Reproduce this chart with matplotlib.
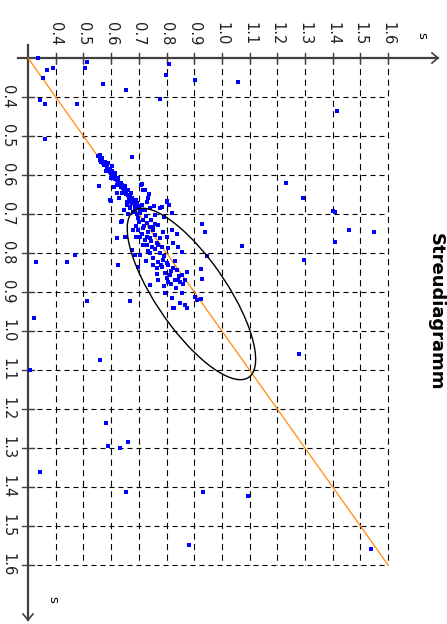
import matplotlib
matplotlib.use("Agg")
import matplotlib.pyplot as plt
from matplotlib.patches import Ellipse

title = "Streudiagramm"
axis_label = "s"
tick_values = [0.4, 0.5, 0.6, 0.7, 0.8, 0.9, 1.0, 1.1, 1.2, 1.3, 1.4, 1.5, 1.6]
tick_labels = ["0.4", "0.5", "0.6", "0.7", "0.8", "0.9", "1.0", "1.1", "1.2", "1.3", "1.4", "1.5", "1.6"]
axis_min = 0.3
axis_max = 1.6

# values along the top axis (y) and along the left axis (x) of the rotated chart
y_vals = [
    0.335, 0.513, 0.506, 0.37, 0.39, 0.355, 0.57, 0.654, 0.777, 0.809, 0.798, 0.903, 1.058,
    0.343, 0.361, 0.477, 0.36, 0.675, 0.556, 1.415, 1.231, 1.293, 1.40, 1.41, 1.459, 1.549,
    1.408, 1.073, 1.296, 0.928, 0.939, 0.947, 0.925, 0.928, 0.925, 0.513, 0.668, 0.322, 0.56,
    0.307, 0.582, 0.589, 0.632, 0.661, 0.343, 0.654, 0.932, 0.881, 0.827, 0.849, 0.867, 0.874,
    1.278, 1.094, 1.538, 0.329, 0.441, 0.47, 0.626, 0.687,
    # diagonal band
    0.560, 0.566, 0.578, 0.590, 0.602, 0.596, 0.614, 0.608, 0.620, 0.632, 0.638, 0.644, 0.650,
    0.656, 0.662, 0.668, 0.674, 0.680, 0.686, 0.692, 0.668, 0.656, 0.680, 0.704, 0.698, 0.716,
    0.728, 0.740, 0.553, 0.559, 0.571, 0.583, 0.589, 0.601, 0.613, 0.625, 0.637, 0.649, 0.661,
    0.673, 0.709, 0.721,
    0.599, 0.710, 0.716, 0.737, 0.734, 0.756, 0.777, 0.801, 0.810, 0.791, 0.638,
    0.575, 0.585, 0.595, 0.605, 0.615, 0.625, 0.635, 0.645, 0.655, 0.665, 0.675, 0.685, 0.695,
    0.562, 0.580, 0.600, 0.620, 0.640, 0.660, 0.690, 0.700, 0.712, 0.725, 0.745, 0.760,
    0.660, 0.645, 0.630, 0.620, 0.610, 0.605,
    # main cluster
    0.656, 0.674, 0.692, 0.710, 0.728, 0.668, 0.686, 0.704, 0.722, 0.740, 0.801, 0.783, 0.819,
    0.758, 0.635, 0.650, 0.698, 0.716, 0.734, 0.752, 0.770, 0.788, 0.704, 0.722, 0.740, 0.758,
    0.777, 0.801, 0.819, 0.837, 0.728, 0.747, 0.765, 0.783, 0.807, 0.825, 0.843, 0.855, 0.740,
    0.752, 0.770, 0.788, 0.807, 0.825, 0.837, 0.855, 0.873, 0.765, 0.783, 0.813, 0.831, 0.849,
    0.867, 0.903, 0.909, 0.855, 0.807, 0.740, 0.698, 0.674, 0.769, 0.802, 0.842, 0.795, 0.820,
    0.823, 0.621, 0.654, 0.596,
    0.700, 0.690, 0.680, 0.710, 0.730, 0.745, 0.760, 0.775, 0.790, 0.800, 0.815, 0.795, 0.780,
    0.765, 0.830, 0.845, 0.860, 0.835, 0.815, 0.790, 0.770, 0.750, 0.720, 0.735, 0.715, 0.690,
    0.705, 0.725, 0.750,
]
x_vals = [
    0.30, 0.31, 0.326, 0.33, 0.325, 0.35, 0.367, 0.382, 0.405, 0.315, 0.344, 0.356, 0.362,
    0.408, 0.418, 0.418, 0.508, 0.554, 0.628, 0.436, 0.62, 0.659, 0.692, 0.695, 0.741, 0.746,
    0.772, 0.782, 0.818, 0.725, 0.746, 0.808, 0.842, 0.866, 0.918, 0.923, 0.923, 0.967, 1.074,
    1.10, 1.236, 1.295, 1.30, 1.285, 1.362, 1.413, 1.413, 1.549, 0.941, 0.928, 0.933, 0.941,
    1.059, 1.423, 1.559, 0.823, 0.823, 0.805, 0.831, 0.805,
    # diagonal band
    0.549, 0.557, 0.566, 0.570, 0.577, 0.585, 0.596, 0.604, 0.613, 0.621, 0.626, 0.634, 0.643,
    0.638, 0.651, 0.656, 0.660, 0.668, 0.677, 0.685, 0.681, 0.677, 0.694, 0.698, 0.711, 0.715,
    0.724, 0.733, 0.552, 0.561, 0.569, 0.574, 0.586, 0.595, 0.599, 0.608, 0.621, 0.629, 0.638,
    0.646, 0.625, 0.638,
    0.666, 0.623, 0.638, 0.649, 0.660, 0.679, 0.685, 0.666, 0.677, 0.708, 0.717,
    0.575, 0.580, 0.592, 0.598, 0.610, 0.615, 0.630, 0.640, 0.648, 0.662, 0.670, 0.688, 0.700,
    0.566, 0.590, 0.608, 0.625, 0.646, 0.668, 0.665, 0.680, 0.690, 0.705, 0.715, 0.725,
    0.700, 0.690, 0.660, 0.645, 0.630, 0.590,
    # main cluster
    0.668, 0.673, 0.671, 0.677, 0.668, 0.685, 0.690, 0.694, 0.690, 0.685, 0.668, 0.683, 0.698,
    0.703, 0.720, 0.760, 0.741, 0.737, 0.745, 0.733, 0.728, 0.745, 0.758, 0.767, 0.762, 0.754,
    0.762, 0.758, 0.741, 0.750, 0.779, 0.784, 0.775, 0.784, 0.788, 0.775, 0.784, 0.797, 0.801,
    0.814, 0.822, 0.818, 0.831, 0.839, 0.844, 0.856, 0.848, 0.839, 0.835, 0.856, 0.869, 0.874,
    0.869, 0.912, 0.921, 0.903, 0.874, 0.882, 0.835, 0.792, 0.869, 0.864, 0.869, 0.903, 0.915,
    0.941, 0.762, 0.759, 0.664,
    0.720, 0.730, 0.740, 0.750, 0.760, 0.770, 0.790, 0.800, 0.808, 0.825, 0.845, 0.850, 0.830,
    0.855, 0.820, 0.860, 0.880, 0.890, 0.880, 0.885, 0.780, 0.740, 0.730, 0.795, 0.780, 0.760,
    0.805, 0.820, 0.830,
]

ellipse_center = (0.89, 0.905)
ellipse_width = 0.60
ellipse_height = 0.22
ellipse_angle = 43.0

# figure geometry (pixel layout of the rotated chart)
W, H = 447, 624
x0_px, y0_px = 28, 58
sx, sy = 277.0, 390.0

fig = plt.figure(figsize=(W / 100, H / 100), dpi=100)
ax = fig.add_axes([0, 0, 1, 1])
ax.set_xlim(axis_min - x0_px / sx, axis_min + (W - x0_px) / sx)
ax.set_ylim(axis_min + (H - y0_px) / sy, axis_min - y0_px / sy)
ax.axis("off")

px = 1.0 / sx
py = 1.0 / sy
axis_col = "#404040"

# dashed grid
for t in tick_values:
    ax.plot([t, t], [axis_min, axis_max], color="black", lw=0.8, dashes=(5.5, 4.0), zorder=1)
    ax.plot([axis_min, axis_max], [t, t], color="black", lw=0.8, dashes=(4.5, 3.6), zorder=1)

# axes
top_end = axis_min + 410 * px
left_end = axis_min + 562 * py
ax.plot([axis_min - 10 * px, top_end], [axis_min, axis_min], color=axis_col, lw=1.6, zorder=3)
ax.plot([axis_min, axis_min], [axis_min - 13 * py, left_end], color=axis_col, lw=1.6, zorder=3)
ax.plot([top_end - 6 * px, top_end, top_end - 6 * px],
        [axis_min - 5 * py, axis_min, axis_min + 5 * py], color=axis_col, lw=1.2, zorder=3)
ax.plot([axis_min - 5 * px, axis_min, axis_min + 5 * px],
        [left_end - 6 * py, left_end, left_end - 6 * py], color=axis_col, lw=1.2, zorder=3)

for t, lab in zip(tick_values, tick_labels):
    ax.plot([t, t], [axis_min - 5 * py, axis_min + 5 * py], color=axis_col, lw=1.0, zorder=3)
    ax.plot([axis_min - 6 * px, axis_min + 6 * px], [t, t], color=axis_col, lw=1.0, zorder=3)
    ax.text(t, axis_min - 13 * py, lab, rotation=-90, ha="center", va="bottom",
            fontsize=10.5, family="DejaVu Sans", color="#202020")
    ax.text(axis_min - 20 * px, t, lab, rotation=-90, ha="center", va="center",
            fontsize=10.5, family="DejaVu Sans", color="#202020")

ax.text(axis_min + 394 * px, axis_min - 23 * py, axis_label, rotation=-90,
        ha="center", va="center", fontsize=9.5, color="black")
ax.text(axis_min + 25 * px, axis_min + 541 * py, axis_label, rotation=-90,
        ha="center", va="center", fontsize=9.5, color="black")

ax.text(axis_min + 408 * px, axis_min + 254 * py, title, rotation=-90,
        ha="center", va="center", fontsize=13, fontweight="bold",
        family="Liberation Sans Narrow", color="black")

# diagonal reference line
ax.plot([axis_min, axis_max], [axis_min, axis_max], color="#FF8C00", lw=0.9, zorder=4)

# scatter points
ax.scatter(y_vals, x_vals, s=6.5, marker="s", color="#0000FF", linewidths=0, zorder=5)

# ellipse
ax.add_patch(Ellipse(ellipse_center, ellipse_width, ellipse_height, angle=ellipse_angle,
                     fill=False, edgecolor="black", lw=1.0, zorder=6))

fig.savefig("out.png", dpi=100, facecolor="white")
